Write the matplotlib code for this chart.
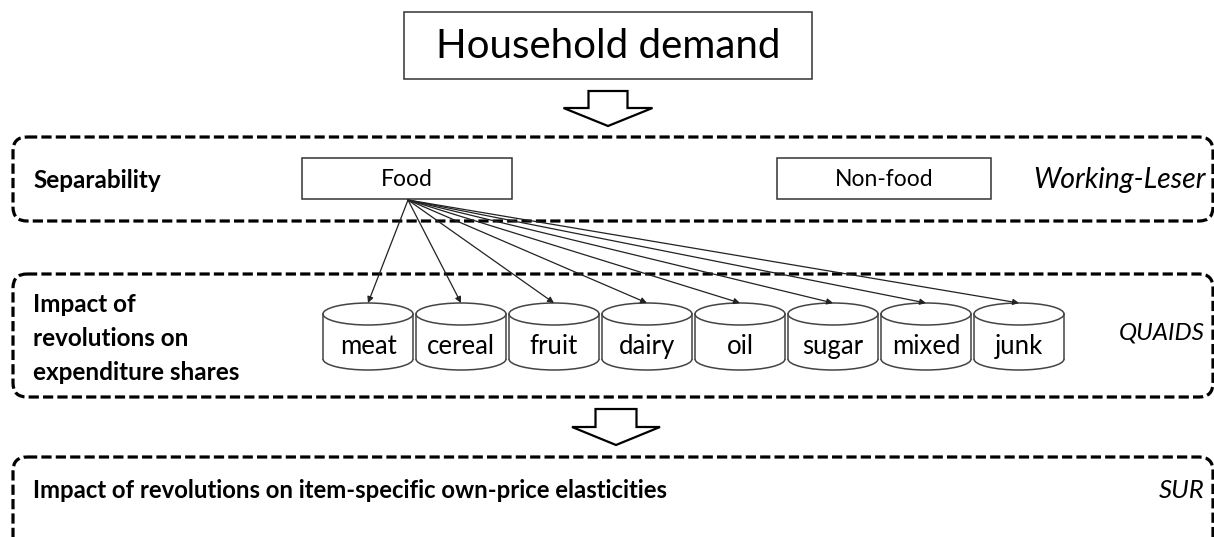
import matplotlib
matplotlib.use("Agg")
import matplotlib.pyplot as plt
from matplotlib.patches import FancyBboxPatch, Rectangle, Ellipse, Arc, Polygon

plt.rcParams['font.family'] = ['Lato', 'DejaVu Sans']

# diagram content
top_label = "Household demand"
stage_labels = ["Separability",
                "Impact of\nrevolutions on\nexpenditure shares",
                "Impact of revolutions on item-specific own-price elasticities"]
model_labels = ["Working-Leser", "QUAIDS", "SUR"]
split_labels = ["Food", "Non-food"]
food_groups = ["meat", "cereal", "fruit", "dairy", "oil", "sugar", "mixed", "junk"]

W, H = 1214, 537
fig = plt.figure(figsize=(W / 100, H / 100), dpi=100)
ax = fig.add_axes([0, 0, 1, 1])
ax.set_xlim(0, W)
ax.set_ylim(H, 0)
ax.axis("off")

EDGE = "#333333"


def plain_box(x0, y0, x1, y1, text, size):
    ax.add_patch(Rectangle((x0, y0), x1 - x0, y1 - y0, fill=False,
                           ec=EDGE, lw=1.1))
    ax.text((x0 + x1) / 2, (y0 + y1) / 2 + 1, text, ha="center",
            va="center", fontsize=size, color="black")


def dashed_box(y0, y1):
    ax.add_patch(FancyBboxPatch((13, y0), 1200, y1 - y0,
                                boxstyle="round,pad=0,rounding_size=14",
                                fill=False, ec="black", lw=2.3,
                                ls=(0, (3.2, 1.3)), clip_on=False))


def hollow_arrow(cx, top, base, tip, shaft_w, head_w):
    pts = [(cx - shaft_w / 2, top), (cx + shaft_w / 2, top),
           (cx + shaft_w / 2, base), (cx + head_w / 2, base),
           (cx, tip), (cx - head_w / 2, base), (cx - shaft_w / 2, base)]
    ax.add_patch(Polygon(pts, closed=True, fc="white", ec="black", lw=1.6,
                         joinstyle="miter"))


def cylinder(x0, w, ytop, ybot, rh, label):
    cx = x0 + w / 2
    ax.add_patch(Rectangle((x0, ytop), w, ybot - ytop, fc="white", ec="none"))
    ax.add_patch(Ellipse((cx, ybot), w, 2 * rh, fc="white", ec="none"))
    ax.plot([x0, x0], [ytop, ybot], color="#444444", lw=1.1)
    ax.plot([x0 + w, x0 + w], [ytop, ybot], color="#444444", lw=1.1)
    ax.add_patch(Arc((cx, ybot), w, 2 * rh, theta1=0, theta2=180,
                     ec="#444444", lw=1.1))
    ax.add_patch(Ellipse((cx, ytop), w, 2 * rh, fc="white",
                         ec="#444444", lw=1.1))
    ax.text(cx, (ytop + ybot) / 2 + 10, label, ha="center", va="center",
            fontsize=18.5)


# top box and first block arrow
plain_box(404, 12, 812, 79, top_label, 29)
hollow_arrow(608, 91, 108, 126, 39, 89)

# separability band
dashed_box(137, 221)
ax.text(33, 180, stage_labels[0], ha="left", va="center",
        fontsize=17.5, fontweight="bold")
plain_box(302, 158, 512, 199, split_labels[0], 16.5)
plain_box(777, 158, 991, 199, split_labels[1], 16.5)
ax.text(1206, 180, model_labels[0], ha="right", va="center",
        fontsize=20.5, style="italic")

# expenditure shares band
dashed_box(274, 397)
for i, line in enumerate(stage_labels[1].split("\n")):
    ax.text(33, 304 + i * 34, line, ha="left", va="center",
            fontsize=17.5, fontweight="bold")
ax.text(1205, 333, model_labels[1], ha="right", va="center",
        fontsize=17.5, style="italic")

cyl_w, pitch, x_first = 90, 93, 323
origin = (408, 200)
for i, g in enumerate(food_groups):
    x0 = x_first + i * pitch
    cylinder(x0, cyl_w, 314, 359, 11, g)
    ax.annotate("", xy=(x0 + cyl_w / 2, 303), xytext=origin,
                arrowprops=dict(arrowstyle="-|>", color="#222222", lw=0.9,
                                mutation_scale=9, shrinkA=0, shrinkB=0))

# second block arrow and elasticity band
hollow_arrow(616, 409, 427, 445, 41, 88)
dashed_box(457, 560)
ax.text(33, 491, stage_labels[2], ha="left", va="center",
        fontsize=17.2, fontweight="bold")
ax.text(1205, 491, model_labels[2], ha="right", va="center",
        fontsize=18.5, style="italic")

fig.savefig("out.png", dpi=100)
